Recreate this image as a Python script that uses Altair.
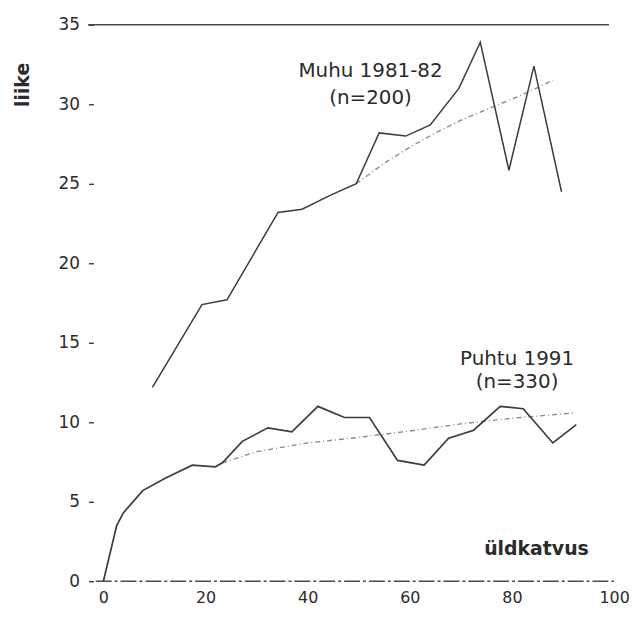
import altair as alt
import pandas as pd

# Puhtu 1991 (n=330) – observed curve
puhtu_x = [0, 2.6, 3.9, 7.7, 12.2, 17.4, 21.9, 23.3, 27.2, 32.2, 36.9, 42.0, 47.2, 52.1,
           57.6, 62.8, 67.6, 72.5, 77.7, 82.2, 88.0, 92.6]
puhtu_y = [0, 3.5, 4.3, 5.7, 6.5, 7.3, 7.2, 7.45, 8.8, 9.65, 9.4, 11.0, 10.3, 10.3,
           7.6, 7.3, 9.0, 9.5, 11.0, 10.85, 8.7, 9.85]

# Puhtu fitted curve
puhtu_fit_x = [23.3, 30, 40, 50, 60, 70, 80, 92.5]
puhtu_fit_y = [7.45, 8.15, 8.7, 9.05, 9.45, 9.9, 10.25, 10.6]

# Muhu 1981-82 (n=200) – observed curve
muhu_x = [9.6, 19.3, 24.2, 34.2, 38.9, 44.6, 49.5, 54.0, 59.2, 64.0, 69.6, 73.8,
          79.4, 84.3, 89.7]
muhu_y = [12.2, 17.4, 17.7, 23.2, 23.4, 24.3, 25.0, 28.2, 28.0, 28.7, 31.0, 33.9,
          25.85, 32.4, 24.5]

# Muhu fitted curve
muhu_fit_x = [49.5, 55, 60, 65, 70, 76, 82, 88]
muhu_fit_y = [25.0, 26.3, 27.3, 28.2, 29.0, 29.8, 30.6, 31.5]

x_ticks = [0, 20, 40, 60, 80, 100]
y_ticks = [0, 5, 10, 15, 20, 25, 30, 35]

labels_text = ["Muhu 1981-82", "(n=200)", "Puhtu 1991", "(n=330)"]
labels_x = [52.3, 52.3, 81.0, 81.0]
labels_y = [32.1, 30.4, 13.97, 12.54]

FONT = "DejaVu Sans"
INK = "#2b2b2b"
LINE = "#3c3c3c"
FIT = "#8a8a8a"

x_enc = alt.X(
    "x:Q",
    scale=alt.Scale(domain=[0, 100], nice=False, zero=False),
    axis=alt.Axis(values=x_ticks, domain=False, ticks=False, grid=False,
                  labelPadding=8, labelFont=FONT, labelFontSize=16,
                  labelColor=INK, labelFlush=False, title=None),
)
y_enc = alt.Y(
    "y:Q",
    scale=alt.Scale(domain=[0, 35], nice=False),
    axis=alt.Axis(values=y_ticks, domain=False, ticks=True, tickSize=5,
                  tickColor=INK, tickWidth=1.3, offset=10, grid=False,
                  labelPadding=9, labelFont=FONT, labelFontSize=17,
                  labelColor=INK, labelFlush=False,
                  title="liike", titleFont=FONT, titleFontSize=19,
                  titleFontWeight="bold", titleColor=INK, titleAngle=-90,
                  titleX=-71, titleY=60, titleAlign="center",
                  titleBaseline="middle"),
)


def line_layer(xs, ys, color, width, dash=None):
    df = pd.DataFrame({"x": xs, "y": ys})
    kw = dict(color=color, strokeWidth=width)
    if dash:
        kw["strokeDash"] = dash
    return alt.Chart(df).mark_line(**kw).encode(x=x_enc, y=y_enc)


top_rule = alt.Chart(pd.DataFrame({"x": [-3], "x2": [99], "y": [35]})).mark_rule(
    color="#4a4a4a", strokeWidth=1.6
).encode(x=x_enc, x2="x2:Q", y=y_enc)

base_rule = alt.Chart(pd.DataFrame({"x": [-1.5], "x2": [100], "y": [0]})).mark_rule(
    color="#4a4a4a", strokeWidth=1.5, strokeDash=[16, 3, 3, 3]
).encode(x=x_enc, x2="x2:Q", y=y_enc)

fit_p = line_layer(puhtu_fit_x, puhtu_fit_y, FIT, 1.4, [5, 3, 1, 3])
fit_m = line_layer(muhu_fit_x, muhu_fit_y, FIT, 1.4, [5, 3, 1, 3])
obs_p = line_layer(puhtu_x, puhtu_y, LINE, 1.7)
obs_m = line_layer(muhu_x, muhu_y, LINE, 1.5)

ann = alt.Chart(pd.DataFrame({"x": labels_x, "y": labels_y, "t": labels_text})).mark_text(
    font=FONT, fontSize=20, color=INK, align="center", baseline="middle"
).encode(x=x_enc, y=y_enc, text="t:N")

xlab = alt.Chart(pd.DataFrame({"x": [84.8], "y": [2.0], "t": ["üldkatvus"]})).mark_text(
    font=FONT, fontSize=19, fontWeight="bold", color=INK, align="center",
    baseline="middle"
).encode(x=x_enc, y=y_enc, text="t:N")

chart = alt.layer(top_rule, base_rule, fit_p, fit_m, obs_p, obs_m, ann, xlab).properties(
    width=514,
    height=560,
    autosize=alt.AutoSizeParams(type="none"),
    padding={"left": 96, "top": 15, "right": 18, "bottom": 24},
    background="white",
).configure_view(stroke=None)

chart.save("out.html", embed_options={"renderer": "svg", "actions": False})
